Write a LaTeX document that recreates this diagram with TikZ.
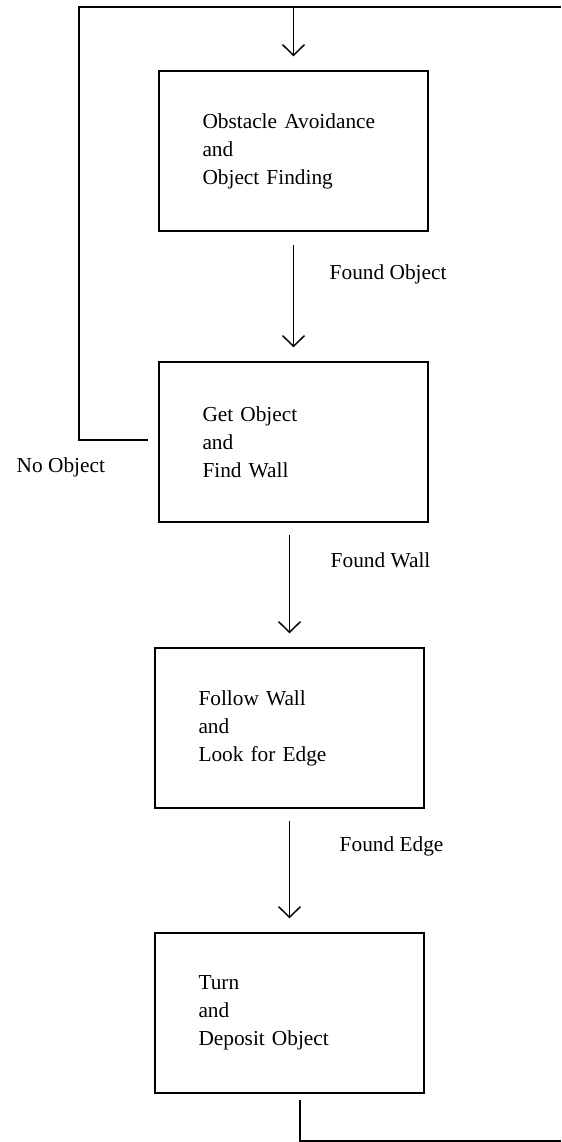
\documentclass[tikz,border=0pt]{standalone}
\usepackage{fontspec}
\setmainfont{Liberation Serif}
\usetikzlibrary{arrows.meta}

\begin{document}
\begin{tikzpicture}[x=0.75pt, y=-0.75pt, line width=1.1pt,
    stage/.style={draw, minimum width=201.75pt, minimum height=120pt, align=left, text width=136.5pt, font=\fontsize{16}{21}\selectfont},
    cond/.style={font=\fontsize{16}{21}\selectfont, inner sep=0pt},
    flow/.style={-{Straight Barb[length=8pt, width=16.5pt]}, shorten >=10.5pt}]
  \useasboundingbox (0,0) rectangle (561,1142);
  % Stages
  \node[stage] (obst) at (293.5,151) {Obstacle Avoidance\\and\\Object Finding};
  \node[stage] (getobj) at (293.5,442) {Get Object\\and\\Find Wall};
  \node[stage] (follow) at (289.5,728) {Follow Wall\\and\\Look for Edge};
  \node[stage] (deposit) at (289.5,1013) {Turn\\and\\Deposit Object};
  % Transitions
  \draw[flow, shorten <=10pt] (obst) -- (getobj);
  \draw[flow, shorten <=9.5pt] (follow.north |- getobj.south) -- (follow.north);
  \draw[flow, shorten <=9pt] (follow) -- (deposit);
  \node[cond, anchor=west] (foundobj) at (329,274) {Found Object};
  \node[cond, anchor=west] (foundwall) at (330,560) {Found Wall};
  \node[cond, anchor=west] (foundedge) at (339,846) {Found Edge};
  % Loop back
  \coordinate (tl) at (79,7);
  \coordinate (tr) at (561,7);
  \coordinate (noend) at (148,440);
  \coordinate (br) at (561,1141);
  \draw (tr) -- (tl) |- (noend);
  \node[cond, anchor=west] (noobj) at (16,467) {No Object};
  \draw[flow] (obst.north |- tl) -- (obst.north);
  \draw ([xshift=7.9pt, yshift=-4.5pt]deposit.south) |- (br);
\end{tikzpicture}
\end{document}
